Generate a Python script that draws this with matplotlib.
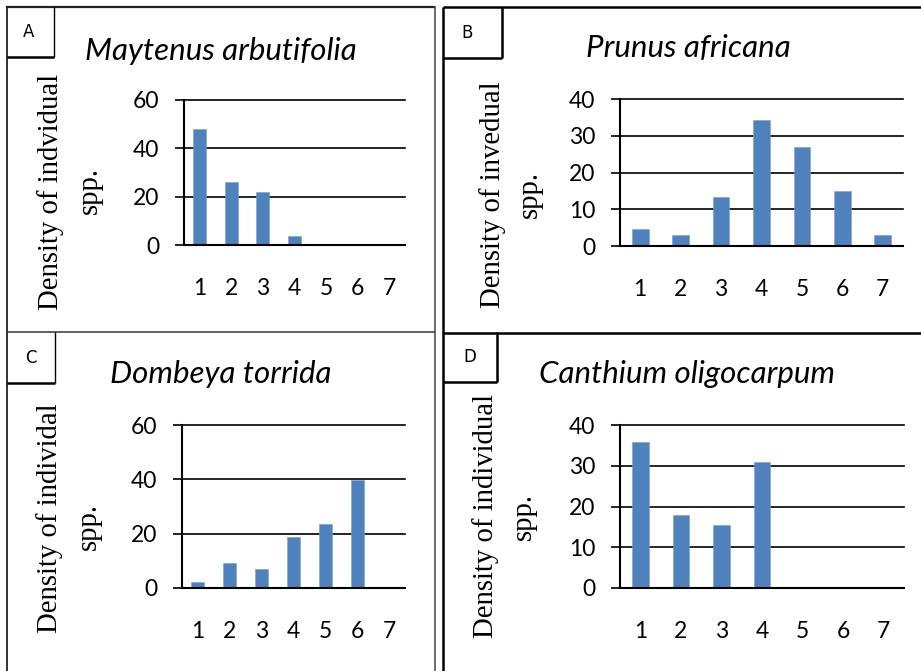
import matplotlib
matplotlib.use("Agg")
import matplotlib.pyplot as plt

W, H = 921, 671

categories = [1, 2, 3, 4, 5, 6, 7]

titles = ["Maytenus arbutifolia", "Prunus africana", "Dombeya torrida", "Canthium oligocarpum"]
letters = ["A", "B", "C", "D"]
ylabels = ["Density of indvidual", "Density of invedual", "Density of individal", "Density of individual"]

values_a = [48, 26, 22, 3.7, 0, 0, 0]
values_b = [4.5, 2.9, 13.4, 34.3, 26.9, 14.9, 2.9]
values_c = [2.3, 9.3, 7.1, 18.7, 23.5, 39.6, 0]
values_d = [35.9, 18.0, 15.4, 30.8, 0, 0, 0]

yticks_a = [0, 20, 40, 60]
yticks_b = [0, 10, 20, 30, 40]
yticks_c = [0, 20, 40, 60]
yticks_d = [0, 10, 20, 30, 40]

BAR = "#4F81BD"

fig = plt.figure(figsize=(W / 100, H / 100), dpi=100)
fig.patch.set_facecolor("white")

# pixel layout: (axes x0, x1, y_top, y_bottom)
axes_px = [(184, 405, 100, 245), (620, 903, 99, 246), (182, 405, 425, 588), (620, 904, 425, 588)]
title_px = [(221, 60), (688, 57), (221, 383), (687, 383)]
ylab1_px = [(51, 192), (493, 195), (50, 518), (486, 516)]
ylab2_px = [(90, 190), (530, 194), (89, 527), (524, 516)]
letter_px = [(29, 32), (467, 33), (31, 358), (470, 357)]

data = [values_a, values_b, values_c, values_d]
yticks = [yticks_a, yticks_b, yticks_c, yticks_d]


def fx(x):
    return x / W


def fy(y):
    return 1 - y / H


for i in range(4):
    x0, x1, yt, yb = axes_px[i]
    ax = fig.add_axes([fx(x0), fy(yb), (x1 - x0) / W, (yb - yt) / H])
    ax.bar(categories, data[i], width=0.41, color=BAR, edgecolor="#7a9fd0", linewidth=0.4, zorder=3)
    ax.set_xlim(0.5, 7.5)
    ax.set_ylim(0, yticks[i][-1])
    ax.set_yticks(yticks[i])
    ax.set_xticks(categories)
    for t in yticks[i]:
        ax.axhline(t, color="black", lw=1.2, zorder=2, clip_on=False)
    for s in ["top", "right"]:
        ax.spines[s].set_visible(False)
    for s in ["left", "bottom"]:
        ax.spines[s].set_color("black")
        ax.spines[s].set_linewidth(1.5)
        ax.spines[s].set_zorder(4)
    ax.tick_params(axis="y", direction="out", length=6.2, width=1.2, pad=11.5,
                   labelsize=16.5, color="black")
    ax.tick_params(axis="x", length=0, pad=24, labelsize=16.5)
    for lab in ax.get_xticklabels() + ax.get_yticklabels():
        lab.set_family("Lato")
    ax.set_facecolor("none")

    tx, ty = title_px[i]
    fig.text(fx(tx), fy(ty), titles[i], ha="center", va="baseline",
             fontsize=22.5, style="italic", family="Lato")
    lx, ly = ylab1_px[i]
    fig.text(fx(lx), fy(ly), ylabels[i], rotation=90, ha="center", va="center",
             fontsize=20.7, family="Liberation Serif")
    lx, ly = ylab2_px[i]
    fig.text(fx(lx), fy(ly), "spp.", rotation=90, ha="center", va="center",
             fontsize=20.7, family="Liberation Serif")
    cx, cy = letter_px[i]
    fig.text(fx(cx), fy(cy), letters[i], ha="center", va="center",
             fontsize=12, family="DejaVu Sans")

# overlay for panel borders
ov = fig.add_axes([0, 0, 1, 1], zorder=10)
ov.set_xlim(0, W)
ov.set_ylim(H, 0)
ov.axis("off")
ov.patch.set_alpha(0)

line_kw = dict(color="black", clip_on=False, solid_capstyle="butt")
# left column
ov.plot([7, 434], [7, 7], lw=1.6, color="#222222", clip_on=False)
ov.plot([7, 7], [7, 671], lw=1.3, color="#222222", clip_on=False)
ov.plot([434.5, 434.5], [7, 671], lw=1.1, color="#444444", clip_on=False)
ov.plot([7, 434], [332, 332], lw=1.1, color="#333333", clip_on=False)
# right column
ov.plot([443, 921], [7, 7], lw=1.8, **line_kw)
ov.plot([443, 443], [7, 671], lw=1.8, **line_kw)
ov.plot([443, 921], [332.5, 332.5], lw=1.8, **line_kw)

# letter boxes
boxes = [(7, 7, 54, 57, 1.0), (443, 7, 502, 58, 1.8), (7, 332, 55, 383, 1.0), (443, 332, 497, 382, 1.8)]
for (bx0, by0, bx1, by1, lw) in boxes:
    ov.plot([bx1, bx1], [by0, by1], lw=lw, **line_kw)
    ov.plot([bx0, bx1], [by1, by1], lw=max(lw, 1.8), **line_kw)

fig.savefig("out.png", dpi=100, facecolor="white")
